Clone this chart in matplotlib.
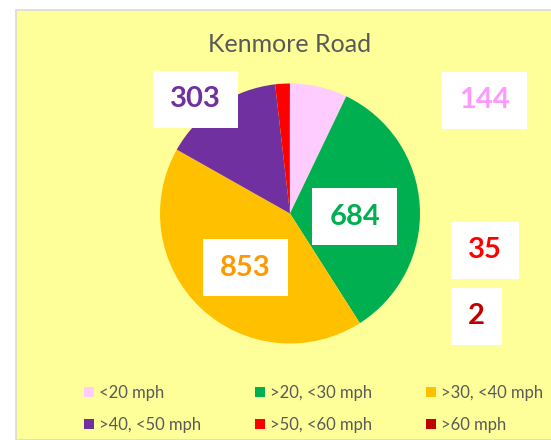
import matplotlib.pyplot as plt
import numpy as np
from matplotlib.patches import Rectangle
from matplotlib.transforms import IdentityTransform

# dati del grafico
categorie = ['<20 mph', '>20, <30 mph', '>30, <40 mph', '>40, <50 mph', '>50, <60 mph', '>60 mph']
conteggi = [144, 684, 853, 303, 35, 2]
colori = ['#FFCCFF', '#00B050', '#FFC000', '#7030A0', '#FF0000', '#C00000']
colori_testo = ['#FF99FF', '#00B050', '#FF9900', '#7030A0', '#FF0000', '#C00000']
titolo = 'Kenmore Road'

W, H = 551, 440
plt.rcParams['font.family'] = ['Lato', 'DejaVu Sans']

fig = plt.figure(figsize=(W / 100, H / 100), dpi=100)
fig.patch.set_facecolor('white')

# sfondo giallo del riquadro
fig.patches.append(Rectangle((16 / W, 0), 1, (H - 10) / H, transform=fig.transFigure,
                             facecolor='#FFFF99', edgecolor='#D9D9D9', linewidth=1.2, zorder=-1))

ax = fig.add_axes([160 / W, (H - 343.5) / H, 260 / W, 260 / H])
ax.set_facecolor('none')
wedges, _ = ax.pie(conteggi, colors=colori, startangle=90, counterclock=False,
                   wedgeprops=dict(linewidth=0))
ax.set_xlim(-1, 1)
ax.set_ylim(-1, 1)

fig.text(290 / W, 1 - 44 / H, titolo, ha='center', va='center', fontsize=18, color='#595959')

# posizioni delle etichette (in pixel, None = dentro la fetta)
pos_etichette = [(484, 100), None, None, (195, 99), (485, 250), (476, 316)]
dim_box = [(85, 57), (85, 57), (85, 57), (85, 57), (68, 57), (51, 57)]


def box_label(xpx, ypx, testo, colore, w, h):
    # xpx, ypx in pixel dall'alto a sinistra
    xd, yd = xpx, H - ypx
    fig.patches.append(Rectangle((xd - w / 2, yd - h / 2), w, h, transform=IdentityTransform(),
                                 facecolor='white', edgecolor='none', zorder=5))
    fig.text(xpx / W, 1 - ypx / H, testo, ha='center', va='center', fontsize=21,
             fontweight='bold', color=colore, zorder=6)


for i, w in enumerate(wedges):
    if pos_etichette[i] is None:
        ang = np.deg2rad((w.theta1 + w.theta2) / 2)
        xd, yd = ax.transData.transform((0.5 * np.cos(ang), 0.5 * np.sin(ang)))
        xp, yp = xd, H - yd + 7
    else:
        xp, yp = pos_etichette[i]
    box_label(xp, yp, str(conteggi[i]), colori_testo[i], *dim_box[i])

# legenda: tre colonne da due voci ciascuna
col_x = [84, 255, 426]
for c in range(3):
    leg = fig.legend([wedges[c], wedges[c + 3]], [categorie[c], categorie[c + 3]],
                     loc='upper left', bbox_to_anchor=(col_x[c] / W, 1 - 385 / H),
                     frameon=False, fontsize=12, handlelength=0.6, handleheight=0.6,
                     handletextpad=0.3, labelspacing=0.95, borderpad=0, borderaxespad=0)
    for t in leg.get_texts():
        t.set_color('#595959')

plt.savefig('out.png', dpi=100, facecolor=fig.get_facecolor())
